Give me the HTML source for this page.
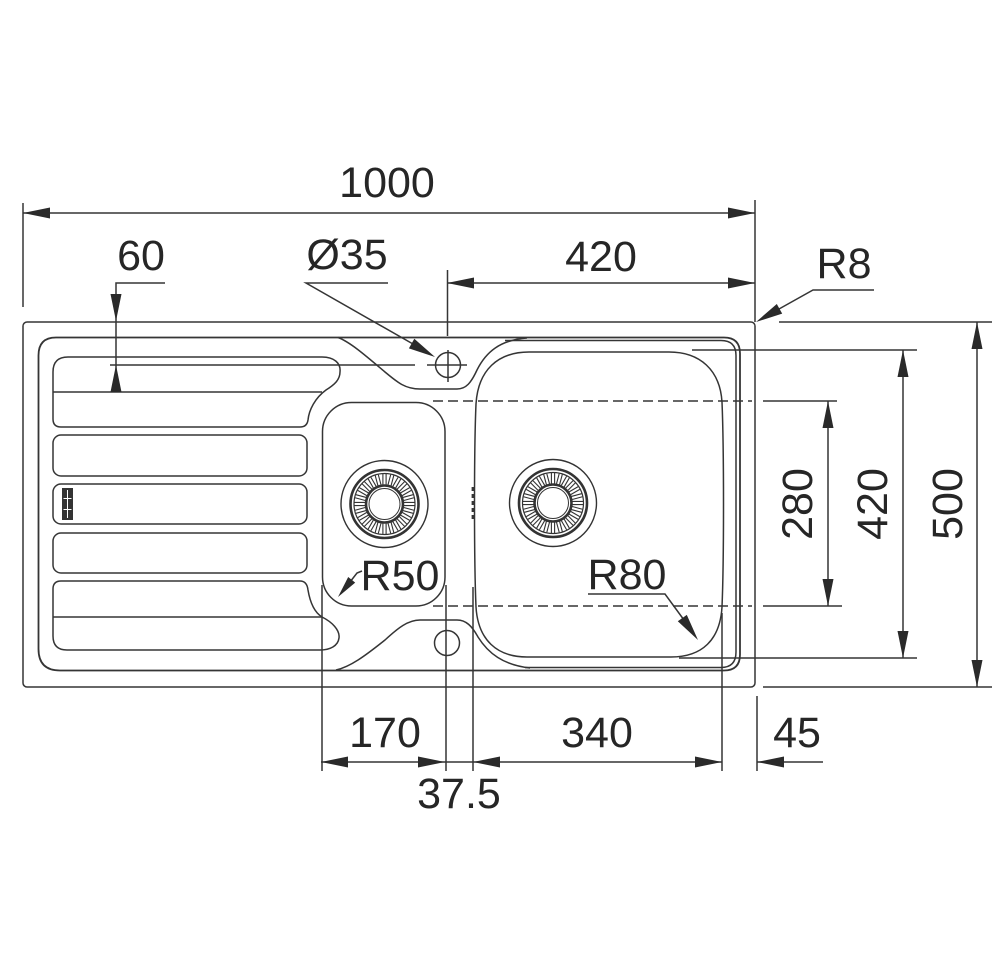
<!DOCTYPE html>
<html>
<head>
<meta charset="utf-8">
<style>
  html,body{margin:0;padding:0;background:#fff;}
  body{width:1000px;height:972px;overflow:hidden;}
  svg{display:block;}
  text{font-family:"Liberation Sans",Arial,sans-serif;font-size:43px;fill:#262626;}
</style>
</head>
<body>
<svg width="1000" height="972" viewBox="0 0 1000 972" xmlns="http://www.w3.org/2000/svg">
<defs>
  <g id="drain" fill="none" stroke="#333">
    <circle r="43.5" stroke-width="1.4"/>
    <circle r="34" stroke-width="2.6"/>
    <circle r="30.5" stroke-width="1.2"/>
    <circle r="18.5" stroke-width="2.6"/>
    <circle r="15.5" stroke-width="1"/>
    <g stroke-width="1.1">
      <path d="M-1.6 -19.5V-30M1.6 -19.5V-30" transform="rotate(0)"/>
      <path d="M-1.6 -19.5V-30M1.6 -19.5V-30" transform="rotate(15)"/>
      <path d="M-1.6 -19.5V-30M1.6 -19.5V-30" transform="rotate(30)"/>
      <path d="M-1.6 -19.5V-30M1.6 -19.5V-30" transform="rotate(45)"/>
      <path d="M-1.6 -19.5V-30M1.6 -19.5V-30" transform="rotate(60)"/>
      <path d="M-1.6 -19.5V-30M1.6 -19.5V-30" transform="rotate(75)"/>
      <path d="M-1.6 -19.5V-30M1.6 -19.5V-30" transform="rotate(90)"/>
      <path d="M-1.6 -19.5V-30M1.6 -19.5V-30" transform="rotate(105)"/>
      <path d="M-1.6 -19.5V-30M1.6 -19.5V-30" transform="rotate(120)"/>
      <path d="M-1.6 -19.5V-30M1.6 -19.5V-30" transform="rotate(135)"/>
      <path d="M-1.6 -19.5V-30M1.6 -19.5V-30" transform="rotate(150)"/>
      <path d="M-1.6 -19.5V-30M1.6 -19.5V-30" transform="rotate(165)"/>
      <path d="M-1.6 -19.5V-30M1.6 -19.5V-30" transform="rotate(180)"/>
      <path d="M-1.6 -19.5V-30M1.6 -19.5V-30" transform="rotate(195)"/>
      <path d="M-1.6 -19.5V-30M1.6 -19.5V-30" transform="rotate(210)"/>
      <path d="M-1.6 -19.5V-30M1.6 -19.5V-30" transform="rotate(225)"/>
      <path d="M-1.6 -19.5V-30M1.6 -19.5V-30" transform="rotate(240)"/>
      <path d="M-1.6 -19.5V-30M1.6 -19.5V-30" transform="rotate(255)"/>
      <path d="M-1.6 -19.5V-30M1.6 -19.5V-30" transform="rotate(270)"/>
      <path d="M-1.6 -19.5V-30M1.6 -19.5V-30" transform="rotate(285)"/>
      <path d="M-1.6 -19.5V-30M1.6 -19.5V-30" transform="rotate(300)"/>
      <path d="M-1.6 -19.5V-30M1.6 -19.5V-30" transform="rotate(315)"/>
      <path d="M-1.6 -19.5V-30M1.6 -19.5V-30" transform="rotate(330)"/>
      <path d="M-1.6 -19.5V-30M1.6 -19.5V-30" transform="rotate(345)"/>
    </g>
  </g>
</defs>

<g fill="none" stroke="#353535" stroke-width="1.5">
  <!-- outer sink outline -->
  <rect x="23" y="322" width="732" height="365" rx="4"/>
  <!-- main inner contour -->
  <path d="M56 337.5 H724 Q740 337.5 740 353.5 V654.5 Q740 670.5 724 670.5 H60 Q38.5 670.5 38.5 649 V355.5 Q38.5 337.5 56 337.5 Z" stroke-width="1.8"/>
  <!-- right bowl rim inner double line -->
  <path d="M505 340.5 H721 Q736 340.5 736 355.5 V652 Q736 667.5 721 667.5 H525"/>
  <!-- top bridge (tap deck) -->
  <path d="M338 337.5 C350 342 365 355 385 372 C397 382 405 389 420 389 H457 C466 389 471 383 477 370 C486 352 500 340 527 338"/>
  <!-- bottom bridge -->
  <path d="M336 670 C350 667 365 656 385 640 C398 628 408 620 420 620 H457 C466 620 472 626 478 637 C488 653 503 665 530 668"/>

  <!-- drainer top bands -->
  <path d="M53 419 V372 Q53 357 68 357 H322 C334 357 341 363 340 372 C340 380 334 385 326 390 C315 398 309 410 308 420 Q307 427 300 427 H61 Q53 427 53 419 Z"/>
  <path d="M53 392 H322"/>
  <!-- ribs -->
  <rect x="53" y="435" width="254" height="41" rx="8"/>
  <rect x="53" y="484" width="254" height="40" rx="8"/>
  <rect x="53" y="533" width="254" height="40" rx="8"/>
  <!-- drainer bottom bands -->
  <path d="M53 589 Q53 581 61 581 H300 Q307 581 308 590 C310 602 314 612 322 617 C332 622 340 630 339 638 C338 646 330 650 320 650 H67 Q53 650 53 636 Z"/>
  <path d="M53 617 H322"/>

  <!-- small bowl -->
  <rect x="322.5" y="402.5" width="122.5" height="203.5" rx="29"/>
  <!-- right bowl -->
  <path d="M529 352 H669 C700 352 720 370 722 402 C724 450 724 560 722 607 C720 640 702 657 671 657 H527 C497 657 478 640 476 607 C474 560 474 450 476 404 C478 370 498 352 529 352 Z"/>

  <!-- tap hole -->
  <circle cx="448" cy="365" r="12.5"/>
  <path d="M427 365 H467 M448 350 V382"/>
  <!-- lower hole -->
  <circle cx="447" cy="643" r="12.5"/>

  <!-- dashed 280 lines -->
  <path d="M433 401 H752 M433 606 H752" stroke-dasharray="10 5"/>
  <path d="M763 401 H837 M763 606 H842"/>

  <!-- overflow marks -->
  <path d="M473 487 V522" stroke-width="2.8" stroke-dasharray="4 3"/>

  <!-- extension lines -->
  <path d="M23 203 V307"/>
  <path d="M755 200 V322"/>
  <path d="M447.5 270 V336"/>
  <path d="M110 365 H415"/>
  <path d="M692 350 H917 M679 658 H917"/>
  <path d="M779 322 H992 M763 687 H992"/>
  <path d="M322 585 V771 M446 585 V771 M473 587 V771 M722 613 V771 M757 696 V771"/>

  <!-- dimension lines -->
  <path d="M23 213 H755"/>
  <path d="M447 283 H755"/>
  <path d="M321 762 H722"/>
  <path d="M757 762 H823"/>
  <path d="M828 401 V606"/>
  <path d="M903 350 V658"/>
  <path d="M977 322 V687"/>
  <!-- leaders -->
  <path d="M165 283 H116 V390"/>
  <path d="M388 283 H306 L420 348"/>
  <path d="M874 290 H813 L779 309"/>
  <path d="M362 571 L357 573 L350 582"/>
  <path d="M588 594 H665 L684 620"/>
</g>

<!-- arrowheads -->
<g fill="#2a2a2a" stroke="none">
  <polygon points="23,213 50,207.5 50,218.5"/>
  <polygon points="755,213 728,207.5 728,218.5"/>
  <polygon points="447,283 474,277.5 474,288.5"/>
  <polygon points="755,283 728,277.5 728,288.5"/>
  <polygon points="321,762 348,756.5 348,767.5"/>
  <polygon points="445,762 418,756.5 418,767.5"/>
  <polygon points="473,762 500,756.5 500,767.5"/>
  <polygon points="722,762 695,756.5 695,767.5"/>
  <polygon points="757,762 784,756.5 784,767.5"/>
  <polygon points="828,401 822.5,428 833.5,428"/>
  <polygon points="828,606 822.5,579 833.5,579"/>
  <polygon points="903,350 897.5,377 908.5,377"/>
  <polygon points="903,658 897.5,631 908.5,631"/>
  <polygon points="977,322 971.5,349 982.5,349"/>
  <polygon points="977,687 971.5,660 982.5,660"/>
  <polygon points="116,321 110.5,294 121.5,294"/>
  <polygon points="116,365 110.5,392 121.5,392"/>
  <polygon points="435,357 408.9,348.4 414.3,338.8"/>
  <polygon points="756,322 776.8,304 782.2,313.6"/>
  <polygon points="338,597 355.2,582.6 348.2,577"/>
  <polygon points="698,640 677.8,621.3 686.8,614.9"/>
</g>

<!-- drains -->
<use href="#drain" x="384.5" y="504"/>
<use href="#drain" x="553" y="503"/>

<!-- drainer logo -->
<rect x="62" y="488" width="11" height="32" fill="#333"/>
<path d="M67.5 490 V518 M63.5 498.5 H71.5 M63.5 509.5 H71.5" stroke="#fff" stroke-width="1" fill="none"/>

<!-- labels -->
<g text-anchor="middle">
  <text x="387" y="197">1000</text>
  <text x="141" y="270">60</text>
  <text x="347" y="269">Ø35</text>
  <text x="601" y="271">420</text>
  <text x="844" y="278">R8</text>
  <text x="400" y="590">R50</text>
  <text x="627" y="589">R80</text>
  <text x="385" y="747">170</text>
  <text x="597" y="747">340</text>
  <text x="797" y="747">45</text>
  <text x="459" y="808">37.5</text>
  <text transform="translate(812,504) rotate(-90)">280</text>
  <text transform="translate(887,504) rotate(-90)">420</text>
  <text transform="translate(962,504) rotate(-90)">500</text>
</g>
</svg>
</body>
</html>
